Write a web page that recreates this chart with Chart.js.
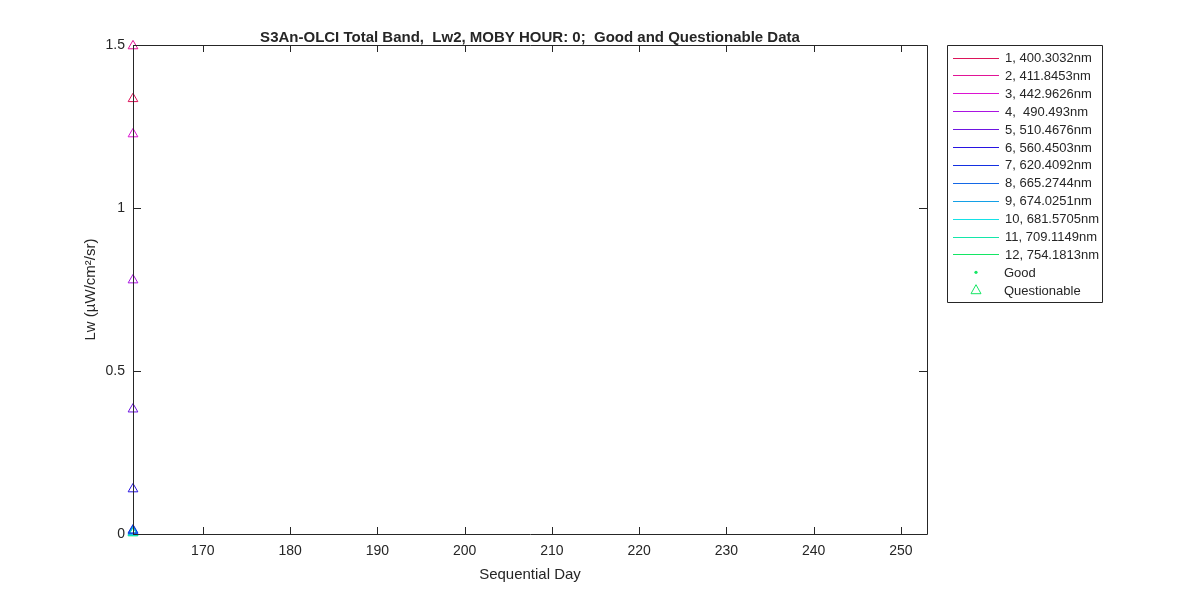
<!DOCTYPE html>
<html>
<head>
<meta charset="utf-8">
<script src="https://cdn.jsdelivr.net/npm/chart.js@4"></script>
<style>
  html, body { margin: 0; padding: 0; background: #fff; }
</style>
</head>
<body>
<canvas id="lwChart" width="1200" height="600"></canvas>
<script>
// band names shown in the legend
const bandLabels = [
    '1, 400.3032nm', '2, 411.8453nm', '3, 442.9626nm', '4,  490.493nm',
    '5, 510.4676nm', '6, 560.4503nm', '7, 620.4092nm', '8, 665.2744nm',
    '9, 674.0251nm', '10, 681.5705nm', '11, 709.1149nm', '12, 754.1813nm'
];
const bandColors = [
    '#DC145A', '#E11496', '#DC14D2', '#AA14E1', '#6E14E1', '#2814E1',
    '#1430E1', '#1468E6', '#14A0E6', '#14E1E6', '#14E6AA', '#14E664'
];
// one questionable sample per band, all on the same day
const seqDay = [162];
const lwValues = [1.335, 1.497, 1.227, 0.779, 0.383, 0.138, 0.012, 0.010, 0.008, 0.006, 0.004, 0.003];
const xTickVals = [170, 180, 190, 200, 210, 220, 230, 240, 250];
const yTickVals = [0, 0.5, 1, 1.5];
const markerLabels = ['Good', 'Questionable'];

const textColor = '#262626';
const fontFamily = '"Liberation Sans", Arial, Helvetica, sans-serif';

const datasets = bandLabels.map((label, i) => ({
    label: label,
    data: seqDay.map(d => ({ x: d, y: lwValues[i] })),
    showLine: false,
    pointStyle: 'triangle',
    pointRadius: 5.6,
    pointBorderWidth: 1,
    borderColor: bandColors[i],
    backgroundColor: 'rgba(0,0,0,0)',
    clip: false
}));

const matlabFrame = {
    id: 'matlabFrame',
    afterDraw(chart) {
        const ctx = chart.ctx;
        const a = chart.chartArea;
        const xs = chart.scales.x;
        const ys = chart.scales.y;
        ctx.save();
        ctx.strokeStyle = textColor;
        ctx.lineWidth = 1;
        ctx.beginPath();
        ctx.rect(Math.round(a.left) + 0.5, Math.round(a.top) + 0.5,
            Math.round(a.right - a.left), Math.round(a.bottom - a.top));
        // inward ticks on all four sides
        xTickVals.forEach(v => {
            const px = Math.round(xs.getPixelForValue(v)) + 0.5;
            ctx.moveTo(px, a.bottom); ctx.lineTo(px, a.bottom - 7);
            ctx.moveTo(px, a.top); ctx.lineTo(px, a.top + 7);
        });
        yTickVals.forEach(v => {
            const py = Math.round(ys.getPixelForValue(v)) + 0.5;
            ctx.moveTo(a.left, py); ctx.lineTo(a.left + 8, py);
            ctx.moveTo(a.right, py); ctx.lineTo(a.right - 8, py);
        });
        ctx.stroke();

        // title and axis labels
        ctx.fillStyle = textColor;
        ctx.textAlign = 'center';
        ctx.textBaseline = 'alphabetic';
        ctx.font = 'bold 15px ' + fontFamily;
        ctx.fillText('S3An-OLCI Total Band,  Lw2, MOBY HOUR: 0;  Good and Questionable Data',
            (a.left + a.right) / 2, 41.5);
        ctx.font = '15px ' + fontFamily;
        ctx.fillText('Sequential Day', (a.left + a.right) / 2, 579);
        ctx.save();
        ctx.translate(95, (a.top + a.bottom) / 2);
        ctx.rotate(-Math.PI / 2);
        ctx.fillText('Lw (\u00b5W/cm\u00b2/sr)', 0, 0);
        ctx.restore();

        // legend box
        const lx = 947, ly = 45, lw = 155, lh = 257;
        ctx.beginPath();
        ctx.rect(lx + 0.5, ly + 0.5, lw, lh);
        ctx.stroke();
        ctx.font = '13px ' + fontFamily;
        ctx.textAlign = 'left';
        ctx.textBaseline = 'middle';
        const rowY = i => 57.5 + 17.9 * i;
        bandLabels.forEach((label, i) => {
            const y = Math.round(rowY(i)) + 0.5;
            ctx.strokeStyle = bandColors[i];
            ctx.beginPath();
            ctx.moveTo(953, y); ctx.lineTo(999, y);
            ctx.stroke();
            ctx.fillStyle = textColor;
            ctx.fillText(label, 1005, rowY(i) + 1);
        });
        const green = bandColors[bandColors.length - 1];
        const gy = rowY(12), qy = rowY(13);
        ctx.fillStyle = green;
        ctx.beginPath();
        ctx.arc(976, gy, 1.6, 0, Math.PI * 2);
        ctx.fill();
        ctx.strokeStyle = green;
        ctx.beginPath();
        ctx.moveTo(976, qy - 5.5); ctx.lineTo(981, qy + 3.5); ctx.lineTo(971, qy + 3.5); ctx.closePath();
        ctx.stroke();
        ctx.fillStyle = textColor;
        ctx.fillText(markerLabels[0], 1004, gy + 1);
        ctx.fillText(markerLabels[1], 1004, qy + 1);
        ctx.restore();
    }
};

new Chart(document.getElementById('lwChart').getContext('2d'), {
    type: 'scatter',
    data: { datasets: datasets },
    options: {
        responsive: false,
        animation: false,
        devicePixelRatio: 1,
        layout: { padding: { left: 0, right: 273, top: 45, bottom: 0 } },
        plugins: {
            legend: { display: false },
            title: { display: false },
            tooltip: { enabled: false }
        },
        scales: {
            x: {
                type: 'linear',
                min: 162,
                max: 253,
                grid: { display: false, drawTicks: false, tickLength: 0 },
                border: { display: false },
                afterBuildTicks: scale => { scale.ticks = xTickVals.map(v => ({ value: v })); },
                afterFit: scale => { scale.height = 66; },
                ticks: {
                    color: textColor,
                    font: { family: fontFamily, size: 14 },
                    padding: 9,
                    maxRotation: 0
                }
            },
            y: {
                type: 'linear',
                min: 0,
                max: 1.5,
                grid: { display: false, drawTicks: false, tickLength: 0 },
                border: { display: false },
                afterBuildTicks: scale => { scale.ticks = yTickVals.map(v => ({ value: v })); },
                afterFit: scale => { scale.width = 133; },
                ticks: {
                    color: textColor,
                    font: { family: fontFamily, size: 14 },
                    padding: 8,
                    callback: v => String(v)
                }
            }
        }
    },
    plugins: [matlabFrame]
});
</script>
</body>
</html>
